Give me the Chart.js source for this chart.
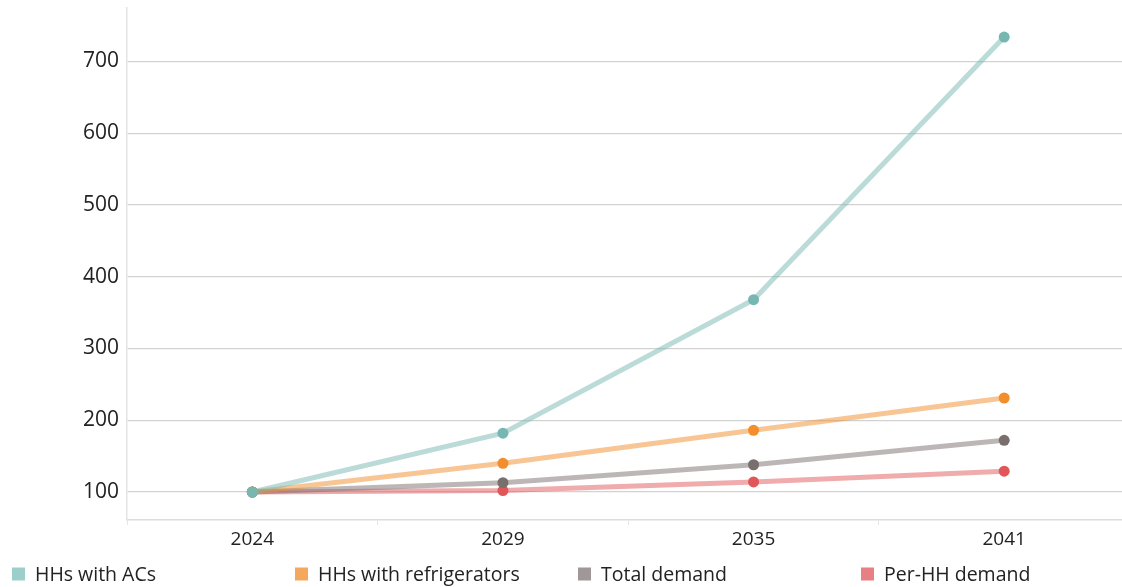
<!DOCTYPE html>
<html>
<head>
<meta charset="utf-8">
<script src="https://cdn.jsdelivr.net/npm/chart.js@4/dist/chart.umd.min.js"></script>
<style>
  html, body { margin: 0; padding: 0; background: #fff; overflow: hidden; }
  #wrap { position: relative; top: -13px; width: 1135px; height: 600px; }
</style>
</head>
<body>
<div id="wrap"><canvas id="c"></canvas></div>
<script>
// Index values (2024 = 100)
const years = ['2024', '2029', '2035', '2041'];
const hhWithACs = [100, 182, 368, 734];
const hhWithFridges = [100, 140, 186, 231];
const totalDemand = [100, 113, 138, 172];
const perHHDemand = [100, 102, 114, 129];
const yTickValues = [100, 200, 300, 400, 500, 600, 700];

const seriesNames = ['HHs with ACs', 'HHs with refrigerators', 'Total demand', 'Per-HH demand'];
const lineColors = ['rgba(118,183,178,0.5)', 'rgba(242,142,43,0.5)', 'rgba(121,112,110,0.5)', 'rgba(225,87,89,0.5)'];
const pointColors = ['#76b7b2', '#f28e2b', '#79706e', '#e15759'];
const legendColors = ['#9ccfc9', '#f5a85c', '#a09896', '#e88083'];

const FONT = "'Open Sans', 'Noto Sans', sans-serif";

const seriesValues = [hhWithACs, hhWithFridges, totalDemand, perHHDemand];
const datasets = seriesValues.map((vals, i) => ({
  label: seriesNames[i],
  data: vals,
  borderColor: lineColors[i],
  backgroundColor: pointColors[i],
  pointBackgroundColor: pointColors[i],
  pointBorderWidth: 0,
  pointRadius: 5.5,
  pointHoverRadius: 5.5,
  borderWidth: 5,
  tension: 0,
  fill: false
}));

// Evenly spaced legend row along the bottom
const bottomLegend = {
  id: 'bottomLegend',
  afterDraw(chart) {
    const ctx = chart.ctx;
    ctx.save();
    ctx.font = '19.5px ' + FONT;
    ctx.textBaseline = 'middle';
    ctx.textAlign = 'left';
    const startX = 12, step = 283, cy = 588, box = 13;
    chart.data.datasets.forEach((ds, i) => {
      const x = startX + i * step;
      ctx.fillStyle = legendColors[i];
      ctx.fillRect(x, cy - box / 2 - 1, box, box);
      ctx.fillStyle = '#222';
      ctx.fillText(ds.label, x + 23, cy);
    });
    ctx.restore();
  }
};

new Chart(document.getElementById('c'), {
  type: 'line',
  data: { labels: years, datasets },
  plugins: [bottomLegend],
  options: {
    responsive: true,
    maintainAspectRatio: false,
    animation: false,
    layout: { padding: { top: 8, right: 0, bottom: 0, left: 0 } },
    plugins: {
      legend: { display: false },
      tooltip: { enabled: false }
    },
    scales: {
      x: {
        offset: true,
        grid: {
          offset: true,
          drawOnChartArea: false,
          drawTicks: true,
          tickLength: 5,
          color: '#e6e6e6'
        },
        border: { display: true, color: '#dcdcdc', width: 1.5 },
        ticks: {
          color: '#222',
          font: { family: FONT, size: 19 },
          padding: 3
        },
        afterFit(scale) { scale.height = 67; }
      },
      y: {
        min: 61,
        max: 775,
        afterBuildTicks(scale) {
          scale.ticks = yTickValues.map(v => ({ value: v }));
        },
        grid: {
          color: '#d2d2d2',
          lineWidth: 1.2,
          drawTicks: false
        },
        border: { display: true, color: '#e4e4e4', width: 1.5 },
        ticks: {
          color: '#222',
          font: { family: FONT, size: 21 },
          padding: 8
        },
        afterFit(scale) { scale.width = 127; }
      }
    }
  }
});
</script>
</body>
</html>
